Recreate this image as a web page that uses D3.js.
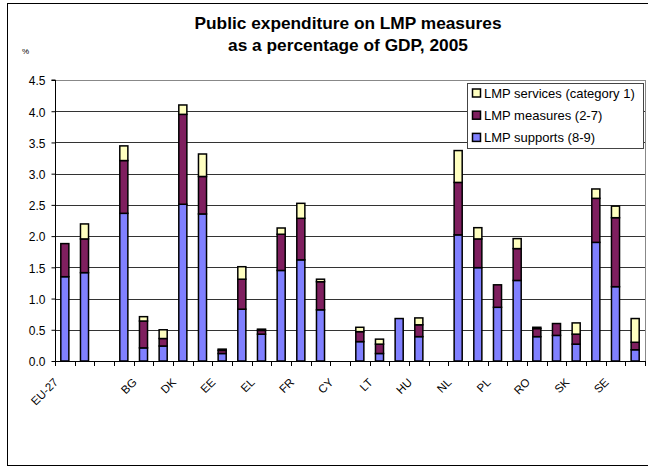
<!DOCTYPE html>
<html><head><meta charset="utf-8">
<script src="https://cdn.jsdelivr.net/npm/d3@7"></script>
<style>body{margin:0;background:#fff}svg{display:block;font-family:Arial,"Liberation Sans",sans-serif}</style>
</head><body><svg id="c" width="648" height="468"></svg>
<script>
const categories = ["EU-27","EU-15"," ","BE","BG","CZ","DK","DE","EE","IE","EL","ES","FR","IT","CY","LV","LT","LU","HU","MT","NL","AT","PL","PT","RO","SI","SK","FI","SE","UK"];
const supports = [1.35,1.415,0,2.365,0.21,0.24,2.51,2.355,0.12,0.83,0.43,1.45,1.62,0.82,0,0.31,0.12,0.68,0.39,0,2.02,1.495,0.86,1.29,0.39,0.41,0.27,1.90,1.19,0.18];
const measures = [0.53,0.54,0,0.845,0.43,0.12,1.44,0.60,0.05,0.48,0.06,0.58,0.665,0.45,0,0.16,0.15,0,0.19,0,0.84,0.46,0.36,0.51,0.13,0.19,0.16,0.705,1.105,0.12];
const services = [0,0.24,0,0.235,0.07,0.14,0.15,0.36,0.02,0.20,0.02,0.10,0.24,0.04,0,0.07,0.08,0,0.11,0,0.51,0.18,0,0.16,0.02,0,0.18,0.15,0.185,0.38];
const yTicks = [0,0.5,1.0,1.5,2.0,2.5,3.0,3.5,4.0,4.5];
const seriesNames = ["LMP services (category 1)","LMP measures (2-7)","LMP supports (8-9)"];
const colors = {supports:"#8080FF", measures:"#7F1F5F", services:"#FFFFC0"};

const svg = d3.select("#c");
const L=55, R=645, T=80, B=361;

// chart border
svg.append("rect").attr("x",7.5).attr("y",3.5).attr("width",660).attr("height",462).attr("fill","#fff").attr("stroke","#000").attr("stroke-width",1);

const x = d3.scaleBand().domain(categories).range([L,R]).paddingInner(0.59).paddingOuter(0.295);
const y = d3.scaleLinear().domain([0,4.5]).range([B,T]);

// gridlines
svg.append("g").selectAll("line").data(yTicks.filter(d=>d>0)).join("line")
  .attr("x1",L).attr("x2",R).attr("y1",d=>Math.round(y(d))+0.5).attr("y2",d=>Math.round(y(d))+0.5)
  .attr("stroke",(d,i)=> d===4.5 ? "#888" : "#333").attr("stroke-width",1);
svg.append("line").attr("x1",R+0.5).attr("x2",R+0.5).attr("y1",T).attr("y2",B).attr("stroke","#888");

// stacked data
const rows = categories.map((c,i)=>({cat:c, supports:supports[i], measures:measures[i], services:services[i]}));
const stack = d3.stack().keys(["supports","measures","services"]);
const layers = stack(rows);
svg.append("g").selectAll("g").data(layers).join("g")
  .attr("fill",d=>colors[d.key])
  .selectAll("rect").data(d=>d.filter(p=>p[1]-p[0]>0)).join("rect")
  .attr("x",d=>x(d.data.cat)).attr("width",x.bandwidth())
  .attr("y",d=>y(d[1])).attr("height",d=>y(d[0])-y(d[1]))
  .attr("stroke","#000").attr("stroke-width",1.5);

// y axis
const yAxis = d3.axisLeft(y).tickValues(yTicks).tickFormat(d3.format(".1f")).tickSize(4).tickPadding(6);
const ga = svg.append("g").attr("transform",`translate(${L+0.5},0)`).call(yAxis);
ga.select(".domain").attr("stroke","#000").attr("d",`M-4,${T}H0V${B}`);
ga.selectAll(".tick line").attr("stroke","#000");
ga.selectAll("text").attr("font-size",12).attr("font-family","Arial,'Liberation Sans',sans-serif").attr("fill","#000").attr("dy","0.4em");

// x axis baseline and ticks
svg.append("line").attr("x1",L).attr("x2",R).attr("y1",B+0.5).attr("y2",B+0.5).attr("stroke","#000");
const step = x.step();
svg.append("g").selectAll("line").data(d3.range(categories.length+1)).join("line")
  .attr("x1",i=>Math.round(L+i*step)+0.5).attr("x2",i=>Math.round(L+i*step)+0.5)
  .attr("y1",B).attr("y2",B+5).attr("stroke","#000");

// x labels (every other)
svg.append("g").selectAll("text").data(categories.filter((c,i)=>i%2===0)).join("text")
  .attr("transform",d=>`translate(${x(d)+x.bandwidth()/2-6},${B+22}) rotate(-45)`)
  .attr("text-anchor","end").attr("font-size",11.5).attr("fill","#000").text(d=>d.trim());

// title
const title = svg.append("text").attr("x",348).attr("text-anchor","middle").attr("font-weight","bold").attr("font-size",17.3);
title.append("tspan").attr("x",348).attr("y",29).text("Public expenditure on LMP measures");
title.append("tspan").attr("x",348).attr("y",51).text("as a percentage of GDP, 2005");
svg.append("text").attr("x",22).attr("y",54).attr("font-size",8).text("%");

// legend
const lg = svg.append("g");
lg.append("rect").attr("x",467.5).attr("y",83.5).attr("width",176).attr("height",65).attr("fill","#fff").attr("stroke","#444");
const legKeys = ["services","measures","supports"];
seriesNames.forEach((n,i)=>{
  const yy = 93.5 + i*22.2;
  lg.append("rect").attr("x",472.5).attr("y",yy-4.5).attr("width",8).attr("height",8).attr("fill",colors[legKeys[i]]).attr("stroke","#000").attr("stroke-width",1.5);
  lg.append("text").attr("x",484).attr("y",yy+4.5).attr("font-size",13).text(n);
});
</script></body></html>
